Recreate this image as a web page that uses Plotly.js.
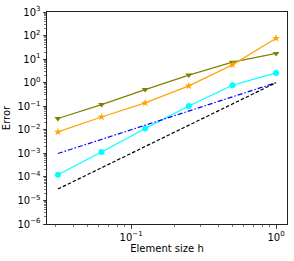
<!DOCTYPE html>
<html>
<head>
<meta charset="utf-8">
<script src="https://cdn.plot.ly/plotly-3.0.1.min.js"></script>
<style>html,body{margin:0;padding:0;background:#fff;}#plot{width:294px;height:261px;}</style>
</head>
<body>
<div id="plot"></div>
<script>
const h = [0.03125, 0.0625, 0.125, 0.25, 0.5, 1.0];
const errOlive = [0.030, 0.117, 0.51, 2.1, 7.4, 17.4];
const errOrange = [0.0081, 0.035, 0.138, 0.73, 5.7, 77];
const errCyan = [0.000124, 0.00114, 0.0114, 0.102, 0.78, 2.6];
const refOrder2 = [0.00098, 0.0039, 0.0156, 0.0625, 0.25, 1.0];
const refOrder3 = [0.0000305, 0.000244, 0.00195, 0.0156, 0.125, 1.0];
const yTickVals = [1e-6, 1e-5, 1e-4, 1e-3, 1e-2, 1e-1, 1, 10, 100, 1000];
const yTickText = ['10<sup>−6</sup>', '10<sup>−5</sup>', '10<sup>−4</sup>', '10<sup>−3</sup>', '10<sup>−2</sup>',
                   '10<sup>−1</sup>', '10<sup>0</sup>', '10<sup>1</sup>', '10<sup>2</sup>', '10<sup>3</sup>'];
const xTickVals = [0.1, 1];
const xTickText = ['10<sup>−1</sup>', '10<sup>0</sup>'];

const traces = [
  {x: h, y: errOlive, mode: 'lines+markers', line: {color: '#808000', width: 1.2},
   marker: {symbol: 'triangle-down', size: 6, color: '#808000'}},
  {x: h, y: errOrange, mode: 'lines+markers', line: {color: '#FFA500', width: 1.2},
   marker: {symbol: 'star', size: 6, color: '#FFA500'}},
  {x: h, y: errCyan, mode: 'lines+markers', line: {color: '#00FFFF', width: 1.2},
   marker: {symbol: 'circle', size: 6, color: '#00FFFF'}},
  {x: h, y: refOrder2, mode: 'lines', line: {color: '#0000FF', width: 1.2, dash: '5px,2px,1.5px,2px'}},
  {x: h, y: refOrder3, mode: 'lines', line: {color: '#000000', width: 1.2, dash: '3.5px,2px'}}
];

const lx0 = Math.log10(h[0]), lx1 = Math.log10(h[h.length-1]);
const pad = (lx1 - lx0) * 0.05;

const font = {family: 'DejaVu Sans', size: 10, color: '#000'};
const minorTicks = {ticks: 'outside', ticklen: 2, tickcolor: '#222', tickwidth: 0.6, dtick: 'D1', showgrid: false};
const layout = {
  width: 294, height: 261,
  margin: {l: 47, r: 7, t: 12, b: 37},
  showlegend: false,
  paper_bgcolor: '#fff', plot_bgcolor: '#fff',
  font: font,
  xaxis: {
    type: 'log', range: [lx0 - pad, lx1 + pad],
    tickmode: 'array', tickvals: xTickVals, ticktext: xTickText,
    showgrid: false, zeroline: false,
    showline: true, mirror: true, linecolor: '#222', linewidth: 1,
    ticks: 'outside', ticklen: 3.5, tickcolor: '#222', tickwidth: 0.8,
    minor: minorTicks,
    tickfont: font,
    title: {text: 'Element size h', font: font, standoff: 2}
  },
  yaxis: {
    type: 'log', range: [-6, 3],
    tickmode: 'array', tickvals: yTickVals, ticktext: yTickText,
    showgrid: false, zeroline: false,
    showline: true, mirror: true, linecolor: '#222', linewidth: 1,
    ticks: 'outside', ticklen: 3.5, tickcolor: '#222', tickwidth: 0.8,
    minor: minorTicks,
    tickfont: font,
    title: {text: 'Error', font: font, standoff: 4}
  }
};
Plotly.newPlot('plot', traces, layout, {displayModeBar: false, staticPlot: true});
</script>
</body>
</html>
